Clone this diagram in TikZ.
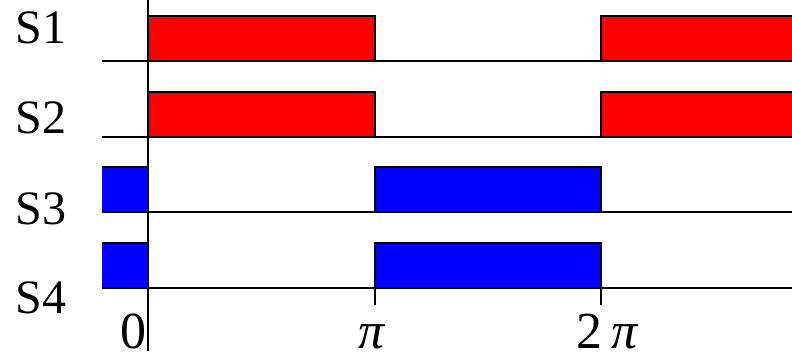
\documentclass[tikz,border=0pt]{standalone}
\usepackage{fontspec}
\setmainfont{Liberation Serif}
\usetikzlibrary{positioning}
\tikzset{
	redbar/.style  ={draw=black, line width=1.4pt, fill=red},
	bluebar/.style ={draw=black, line width=1.4pt, fill=blue},
	baseln/.style  ={draw=black, line width=1.1pt},
	sigtext/.style ={font=\fontsize{48}{48}\selectfont, anchor=center},
	ticktext/.style={font=\fontsize{52}{52}\selectfont, anchor=base, inner sep=0pt},
}
\begin{document}
\begin{tikzpicture}[x=1pt, y=-1pt]
	\useasboundingbox (0,0) rectangle (792,351);
	% signal labels
	\node[sigtext] (s1) at (41,28) {S1};
	\node[sigtext] (s2) at (41,118) {S2};
	\node[sigtext] (s3) at (41,209) {S3};
	\node[sigtext] (s4) at (41,298) {S4};
	% S1, S2: red, on from 0 to pi and from 2pi on
	\foreach \yb in {61,137} {
		\fill[red] (148,\yb-45) rectangle (375,\yb);
		\draw[redbar] (148,\yb) -- (148,\yb-45) -- (375,\yb-45) -- (375,\yb);
		\fill[red] (601,\yb-45) rectangle (792,\yb);
		\draw[redbar] (601,\yb) -- (601,\yb-45) -- (792,\yb-45);
		\draw[baseln] (102,\yb) -- (792,\yb);
	}
	% S3, S4: blue, on before 0 and from pi to 2pi
	\foreach \yb in {212,288} {
		\fill[blue] (102,\yb-45) rectangle (148,\yb);
		\draw[bluebar] (102,\yb-45) -- (148,\yb-45) -- (148,\yb);
		\draw[bluebar] (375,\yb-45) rectangle (601,\yb);
		\draw[baseln] (102,\yb) -- (792,\yb);
	}
	% time axis
	\draw[line width=1.1pt] (148,0) -- (148,351);
	\draw[line width=1.1pt] (375,288) -- (375,305);
	\draw[line width=1.1pt] (601,288) -- (601,305);
	\node[ticktext] (t0) at (133,348) {0};
	\node[ticktext] (t1) at (372,348) {\itshape π};
	\node[ticktext] (t2) at (607,348) {2\,{\itshape π}};
\end{tikzpicture}
\end{document}
